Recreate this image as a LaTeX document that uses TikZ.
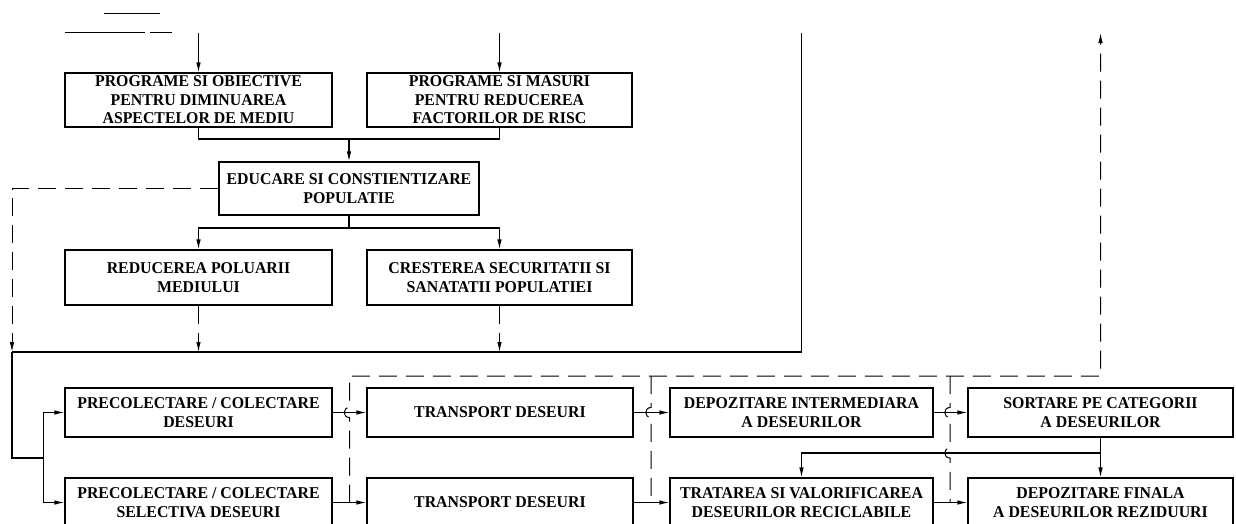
\documentclass[tikz,border=0pt]{standalone}
\usepackage{fontspec}
\setmainfont[FakeStretch=0.96]{Liberation Serif}
\usetikzlibrary{arrows.meta}

\begin{document}
\begin{tikzpicture}[x=1pt, y=-1pt,
  box/.style={draw, line width=1.1pt, align=center, inner sep=0pt,
    font=\bfseries\fontsize{16.5}{18.5}\selectfont},
  link/.style={line width=1.1pt},
  dlink/.style={line width=1pt, dash pattern=on 18pt off 9pt},
  tip/.style={-{Latex[length=10pt,width=4.5pt]}}]
\path[use as bounding box, clip] (0,0) rectangle (1236,523);
% upper boxes
\foreach \nm/\x/\y/\w/\h/\txt in {
  pso/198.5/100/267/54/{PROGRAME SI OBIECTIVE\\PENTRU DIMINUAREA\\ASPECTELOR DE MEDIU},
  psm/499.5/100/265/54/{PROGRAME SI MASURI\\PENTRU REDUCEREA\\FACTORILOR DE RISC},
  edu/349/188.5/260/53/{EDUCARE SI CONSTIENTIZARE\\POPULATIE},
  red/198.5/277.5/267/55/{REDUCEREA POLUARII\\MEDIULUI},
  cre/499.5/277.5/265/55/{CRESTEREA SECURITATII SI\\SANATATII POPULATIEI}}
  \node[box, minimum width=\w, minimum height=\h] (\nm) at (\x,\y) {\txt};
% waste chain
\foreach \nm/\x/\y/\w/\txt in {
  pc1/198.5/412.5/267/{PRECOLECTARE / COLECTARE\\DESEURI},
  tr1/500/412.5/266/{TRANSPORT DESEURI},
  dep/801.5/412.5/263/{DEPOZITARE INTERMEDIARA\\A DESEURILOR},
  sor/1100.5/412.5/265/{SORTARE PE CATEGORII\\A DESEURILOR},
  pc2/198.5/502.5/267/{PRECOLECTARE / COLECTARE\\SELECTIVA DESEURI},
  tr2/500/502.5/266/{TRANSPORT DESEURI},
  tra/801.5/502.5/263/{TRATAREA SI VALORIFICAREA\\DESEURILOR RECICLABILE},
  dfi/1100.5/502.5/265/{DEPOZITARE FINALA\\A DESEURILOR REZIDUURI}}
  \node[box, minimum width=\w, minimum height=49] (\nm) at (\x,\y) {\txt};

% marks at the top
\draw[line width=0.8pt] (104,13) -- (160,13);
\draw[line width=1pt] (65,32) -- (145,32) (150,32) -- (172,32);

% inputs and outputs
\coordinate (inA) at (198.5,33);
\coordinate (inB) at (499.5,33);
\coordinate (outR) at (801.5,33);
\coordinate (outF) at (1100.5,33);
\draw[link,tip] (inA) -- (pso);
\draw[link,tip] (inB) -- (psm);

% programmes -> education
\coordinate (jAB) at (349,139);
\draw[link] (pso.south) |- (jAB) -| (psm.south);
\draw[link,tip] (jAB) -- (edu);
\coordinate (sDE) at (349,228);
\draw[link] (edu) -- (sDE);
\draw[link,tip] (sDE) -| (red.north);
\draw[link,tip] (sDE) -| (cre.north);

% collector line
\coordinate (cL) at (12,352);
\draw[dlink,tip] (edu.west) -| (cL);
\draw[dlink,tip] (red.south) -- (red.south |- cL);
\draw[dlink,tip] (cre.south) -- (cre.south |- cL);
\draw[link] (cL) -- (cL -| outR) -- (outR);
\coordinate (fk) at (43.5,458);
\draw[link] (cL) |- (fk);
\draw[link,tip] (fk) |- (pc1.west);
\draw[link,tip] (fk) |- (pc2.west);

% flow of waste
\foreach \a/\b in {pc1/tr1, tr1/dep, dep/sor, pc2/tr2, tr2/tra, tra/dfi}
  \draw[link,tip] (\a) -- (\b);
\coordinate (sp) at (1100.5,453);
\draw[link] (sor) -- (sp);
\draw[link,tip] (sp) -| (tra.north);
\draw[link,tip] (sp) -- (dfi);

% dashed return, jumping over the flow
\coordinate (rt) at (0,376);
\coordinate (v1) at (349.5,502.5);
\coordinate (v2) at (651,376);
\coordinate (v3) at (950,376);
\draw[dlink,tip] (v1) -- ++(0,-85) .. controls +(-7,0) and +(-7,0) .. ++(0,-10)
  -- (v1 |- rt) -- (rt -| outF) -- (outF);
\draw[dlink] (v2) -- ++(0,31.5) .. controls +(-7,0) and +(-7,0) .. ++(0,10)
  -- (v2 |- tr2);
\draw[dlink] (v3) -- ++(0,31.5) .. controls +(-7,0) and +(-7,0) .. ++(0,10)
  -- ++(0,30.5) .. controls +(-7,0) and +(-7,0) .. ++(0,10) -- (v3 |- dfi);
\end{tikzpicture}
\end{document}
